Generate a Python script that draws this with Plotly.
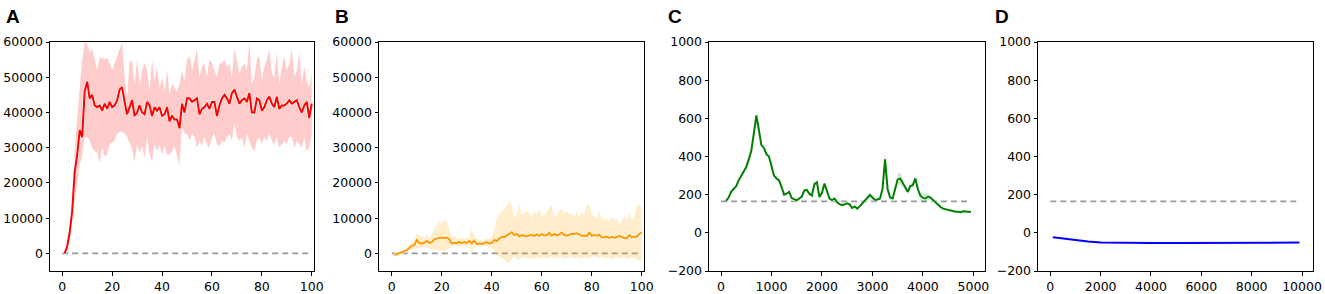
import plotly.graph_objects as go

# ---------------- data ----------------
a_x = list(range(1, 101))
a_mean = [0, 2000, 6000, 12000, 23000, 28000, 35000, 33000, 46000, 48700,
          44000, 45000, 42000, 41500, 42000, 40500, 42500, 41000, 43000, 41500,
          42000, 43500, 46500, 47200, 43000, 39500, 41500, 43500, 39000, 40000,
          42000, 40000, 39500, 43000, 42000, 39000, 41500, 40500, 41500, 39000,
          39500, 41500, 37500, 39000, 38000, 38000, 35500, 42500, 40000, 44000,
          44000, 43000, 43500, 44000, 39500, 41000, 41500, 42500, 41000, 43000,
          43000, 39000, 42000, 44000, 45000, 44000, 42500, 45500, 46500, 44500,
          42500, 43500, 44000, 43000, 45500, 40000, 40000, 44000, 43500, 40500,
          41500, 43500, 44500, 42500, 41500, 44500, 41000, 42000, 42000, 42500,
          43500, 42500, 43000, 43500, 41500, 40000, 42000, 43000, 38500, 42500]
a_upper = [0, 3000, 8000, 16000, 30000, 40000, 47000, 55000, 60000, 59500,
           57000, 58000, 55000, 52000, 55500, 55500, 55000, 55500, 54000, 52000,
           54000, 56000, 58000, 60000, 50000, 44000, 54500, 54500, 48000, 55000,
           48000, 52000, 54000, 52000, 46000, 55000, 49000, 53000, 47000, 50000,
           46000, 52000, 45000, 48000, 47000, 46000, 48000, 52000, 49000, 55000,
           56000, 52000, 55000, 58000, 50000, 53000, 54000, 50000, 55000, 54000,
           52000, 50000, 54000, 54000, 55000, 53000, 54000, 50000, 58000, 55000,
           51000, 53000, 54000, 52000, 60000, 48000, 50000, 55000, 56000, 49000,
           53000, 55000, 58000, 51000, 50000, 57000, 48000, 53000, 56000, 52000,
           54000, 58000, 50000, 52000, 57000, 48000, 53000, 49000, 47000, 51000]
a_lower = [0, 1000, 4000, 9000, 15000, 19000, 25000, 28000, 33000, 33000,
           32000, 30000, 29000, 28500, 25500, 30000, 27500, 28000, 31000, 31500,
           32000, 34000, 34500, 34500, 34000, 33000, 31000, 29500, 26000, 31000,
           28500, 30500, 27000, 33000, 28000, 26000, 31000, 29000, 31000, 28000,
           30500, 28000, 28000, 29000, 30500, 28000, 25000, 36000, 34000, 34000,
           32000, 34000, 33000, 30000, 32000, 30500, 33000, 31000, 30000, 33000,
           34000, 31000, 30500, 32000, 31500, 33000, 34000, 32000, 37000, 33000,
           32000, 33000, 30000, 34000, 32000, 30000, 29000, 32000, 33000, 31000,
           33000, 32000, 34000, 32000, 31000, 33000, 30000, 31000, 32000, 31000,
           33000, 33000, 30000, 32000, 31000, 30000, 33000, 29000, 30000, 34000]

b_x = list(range(1, 101))
b_mean = [-500, -200, 0, 200, 500, 900, 1500, 2200, 2300, 3800,
          3000, 2800, 3000, 3500, 3000, 3200, 4000, 4300, 4400, 4500,
          4300, 4500, 4000, 2800, 3000, 2900, 3300, 2900, 3200, 3000,
          3500, 2800, 3600, 2600, 2800, 2700, 3000, 3200, 2800, 3000,
          3800, 3500, 4200, 4700, 4600, 5000, 5500, 6000, 5200, 5500,
          4800, 5200, 5000, 4800, 5100, 5300, 4900, 5400, 5000, 5500,
          5000, 5200, 5800, 5000, 5500, 5100, 5400, 5900, 5200, 5000,
          5300, 5600, 5500, 5700, 5400, 5000, 5100, 4900, 5900, 5000,
          5200, 5000, 5300, 4500, 4600, 4800, 4400, 4700, 4400, 4600,
          5000, 4700, 4300, 4300, 5200, 4600, 4800, 4800, 5500, 6000]
b_upper = [0, 200, 500, 800, 1000, 1800, 2500, 3000, 4000, 5800,
           5000, 5000, 4500, 5500, 4000, 5500, 6500, 8000, 9000, 8500,
           9500, 9000, 7000, 4500, 5000, 4500, 4000, 4500, 4000, 4500,
           4200, 7000, 5000, 4000, 4000, 3500, 4000, 4200, 4000, 4500,
           7000, 10000, 11000, 12000, 12500, 13500, 15000, 14000, 10000, 11000,
           14000, 11000, 11500, 12000, 11500, 10000, 12000, 11000, 12500, 10500,
           11000, 11500, 13000, 13500, 10000, 11000, 12000, 12500, 11500, 12000,
           11000, 11500, 10500, 12000, 10500, 11500, 11000, 13500, 14000, 11000,
           10500, 10000, 12000, 10000, 9500, 10000, 9000, 10500, 9500, 10000,
           8000, 9500, 10500, 9500, 11500, 9500, 10000, 13500, 14000, 13000]
b_lower = [-800, -500, -300, -200, 0, 300, 700, 1000, 1200, 1500,
           1500, 1500, 1800, 1600, 1500, 1400, 1200, 1000, 700, 500,
           600, 1000, 1500, 2000, 2000, 2100, 2000, 1900, 2100, 2000,
           2200, 0, 2000, 1800, 2000, 2000, 2100, 2000, 1800, 1500,
           500, -500, -1000, -1500, -1500, -2500, -2700, -1500, -500, -1500,
           -2000, -1000, -1200, -1500, -1500, -1200, -1800, -1000, -1500, -1300,
           -1000, -1700, -1200, -900, -1500, -1200, -1300, -1000, -1600, -1400,
           -1200, -900, -1500, -1100, -1300, -1700, -1000, -1400, -1200, -1000,
           -800, -1200, -1400, -1000, -1300, -1500, -1100, -1800, -1300, -1000,
           -1500, -1200, -1000, -1400, -1600, -1200, -1300, -1800, -2000, -2200]

c_x = list(range(100, 5000, 50))
c_mean = [168, 185, 215, 228, 245, 275, 300, 320, 345, 385,
          430, 520, 615, 540, 460, 445, 412, 400, 345, 300,
          285, 275, 240, 200, 205, 215, 182, 178, 170, 180,
          190, 222, 225, 205, 195, 255, 265, 188, 210, 258,
          215, 180, 172, 180, 160, 150, 145, 150, 155, 148,
          130, 138, 127, 140, 155, 170, 185, 198, 185, 172,
          175, 180, 230, 385, 230, 185, 180, 225, 280, 285,
          262, 232, 215, 245, 250, 285, 228, 195, 183, 180,
          190, 185, 172, 160, 145, 135, 127, 124, 120, 117,
          112, 110, 111, 108, 113, 112, 110, 109]
c_spread = [3, 3, 4, 4, 4, 5, 5, 5, 6, 6,
            7, 8, 10, 8, 7, 6, 6, 6, 5, 5,
            5, 5, 5, 5, 5, 5, 4, 4, 4, 5,
            5, 6, 6, 5, 5, 7, 7, 5, 6, 7,
            5, 4, 4, 4, 4, 4, 4, 4, 4, 4,
            4, 4, 4, 5, 6, 8, 12, 15, 10, 6,
            5, 6, 15, 35, 15, 8, 8, 15, 30, 32,
            22, 15, 12, 15, 15, 18, 20, 22, 25, 22,
            18, 10, 6, 5, 5, 4, 4, 4, 3, 3,
            3, 3, 3, 3, 3, 3, 3, 3]
c_upper = [m + s for m, s in zip(c_mean, c_spread)]
c_lower = [m - s for m, s in zip(c_mean, c_spread)]

d_x = [100, 500, 1000, 1500, 2000, 2500, 3000, 4000, 5000, 6000, 7000, 8000, 9000, 9900]
d_mean = [-23, -30, -38, -45, -51, -52, -53, -53, -53, -52, -52, -52, -52, -51]

baseline_ab = 0
baseline_cd = 165

panels = [
    dict(label="A", x=a_x, mean=a_mean, up=a_upper, lo=a_lower, line="#ff0000",
         band="rgba(255,0,0,0.2)", xr=[-4.9, 100.9], yr=[-5000, 60000],
         xt=[0, 20, 40, 60, 80, 100], yt=list(range(0, 60001, 10000)), base=baseline_ab,
         base_x=[0, 99.5], dom=[50, 314], lab_x=4),
    dict(label="B", x=b_x, mean=b_mean, up=b_upper, lo=b_lower, line="#ff9a00",
         band="rgba(255,165,0,0.2)", xr=[-5.1, 100.9], yr=[-5000, 60000],
         xt=[0, 20, 40, 60, 80, 100], yt=list(range(0, 60001, 10000)), base=baseline_ab,
         base_x=[0, 99.5], dom=[379, 644], lab_x=333),
    dict(label="C", x=c_x, mean=c_mean, up=c_upper, lo=c_lower, line="#007f00",
         band="rgba(0,128,0,0.2)", xr=[-238, 5230], yr=[-200, 1000],
         xt=[0, 1000, 2000, 3000, 4000, 5000], yt=list(range(-200, 1001, 200)), base=baseline_cd,
         base_x=[0, 4950], dom=[709, 985], lab_x=666),
    dict(label="D", x=d_x, mean=d_mean, up=None, lo=None, line="#0000ff",
         band=None, xr=[-489, 10437], yr=[-200, 1000],
         xt=[0, 2000, 4000, 6000, 8000, 10000], yt=list(range(-200, 1001, 200)), base=baseline_cd,
         base_x=[0, 9900], dom=[1038, 1313], lab_x=993),
]

W, H = 1325, 294
fig = go.Figure()
ydom = [1 - 271 / H, 1 - 42 / H]
tickfont = dict(family="DejaVu Sans", size=12.5, color="#000000")

for i, p in enumerate(panels):
    n = i + 1
    xa = "x" if n == 1 else f"x{n}"
    ya = "y" if n == 1 else f"y{n}"
    fig.add_trace(go.Scatter(x=p["base_x"], y=[p["base"], p["base"]], mode="lines",
                             line=dict(color="#9a9a9a", width=1.6, dash="6px,4px"),
                             xaxis=xa, yaxis=ya, showlegend=False, hoverinfo="skip"))
    if p["up"] is not None:
        fig.add_trace(go.Scatter(x=p["x"], y=p["lo"], mode="lines", line=dict(width=0),
                                 xaxis=xa, yaxis=ya, showlegend=False, hoverinfo="skip"))
        fig.add_trace(go.Scatter(x=p["x"], y=p["up"], mode="lines", line=dict(width=0),
                                 fill="tonexty", fillcolor=p["band"],
                                 xaxis=xa, yaxis=ya, showlegend=False, hoverinfo="skip"))
        fig.add_trace(go.Scatter(x=p["x"], y=p["mean"], mode="lines",
                                 line=dict(color="rgba(255,255,255,0.8)", width=3.4),
                                 xaxis=xa, yaxis=ya, showlegend=False, hoverinfo="skip"))
    fig.add_trace(go.Scatter(x=p["x"], y=p["mean"], mode="lines",
                             line=dict(color=p["line"], width=2),
                             xaxis=xa, yaxis=ya, showlegend=False))
    axkw = dict(showgrid=False, zeroline=False, showline=True, linecolor="#000000",
                linewidth=1, mirror=True, ticks="outside", ticklen=3.5, tickwidth=1,
                tickcolor="#000000", tickfont=tickfont, tickformat="d", automargin=False)
    fig.layout[f"xaxis{'' if n == 1 else n}"] = dict(
        domain=[p["dom"][0] / W, p["dom"][1] / W], range=p["xr"], anchor=ya,
        tickmode="array", tickvals=p["xt"], **axkw)
    fig.layout[f"yaxis{'' if n == 1 else n}"] = dict(
        domain=ydom, range=p["yr"], anchor=xa, tickmode="array", tickvals=p["yt"],
        **axkw)
    fig.add_annotation(text=f"<b>{p['label']}</b>", xref="paper", yref="paper",
                       x=p["lab_x"] / W, y=1 - 4 / H, xanchor="left", yanchor="top",
                       showarrow=False,
                       font=dict(family="Liberation Sans", size=19, color="#000000"))

fig.update_layout(width=W, height=H, margin=dict(l=0, r=0, t=0, b=0, pad=0, autoexpand=False),
                  paper_bgcolor="white", plot_bgcolor="white")
fig.write_html("out.html", config={"displayModeBar": False},
               post_script="document.body.style.margin='0';document.body.style.padding='0';"
                           "document.documentElement.style.overflow='hidden';")
